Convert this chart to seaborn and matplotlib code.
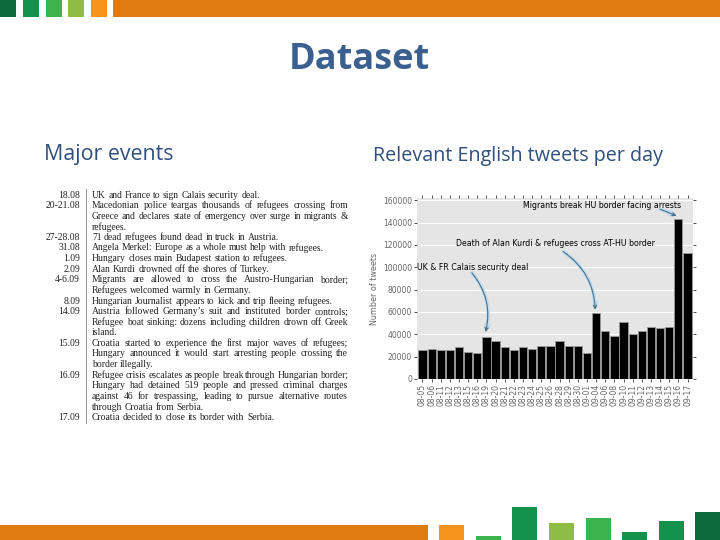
import matplotlib
matplotlib.use("Agg")
import matplotlib.pyplot as plt
import matplotlib.patches as mpatches
import seaborn as sns
import pandas as pd

# --- DATEN ---
dates = ["08-05", "08-06", "08-11", "08-12", "08-13", "08-15", "08-16", "08-19",
         "08-20", "08-21", "08-22", "08-23", "08-24", "08-25", "08-26", "08-28",
         "08-29", "08-30", "09-01", "09-04", "09-06", "09-08", "09-10", "09-11",
         "09-12", "09-13", "09-14", "09-15", "09-16", "09-17"]
tweets = [26200, 26500, 25600, 25600, 28300, 24400, 22900, 37200,
          33600, 28800, 25600, 28300, 26500, 29100, 29100, 33600,
          29100, 29100, 22900, 59500, 42800, 38100, 51200, 39900,
          43400, 46100, 45200, 46100, 143600, 113000]
y_ticks = [0, 20000, 40000, 60000, 80000, 100000, 120000, 140000, 160000]

event_dates = ["18.08", "20-21.08", "27-28.08", "31.08", "1.09", "2.09", "4-6.09",
               "8.09", "14.09", "15.09", "16.09", "17.09"]
event_lines = [
    ["UK and France to sign Calais security deal."],
    ["Macedonian police teargas thousands of refugees crossing from",
     "Greece and declares state of emergency over surge in migrants &",
     "refugees."],
    ["71 dead refugees found dead in truck in Austria."],
    ["Angela Merkel: Europe as a whole must help with refugees."],
    ["Hungary closes main Budapest station to refugees."],
    ["Alan Kurdi drowned off the shores of Turkey."],
    ["Migrants are allowed to cross the Austro-Hungarian border;",
     "Refugees welcomed warmly in Germany."],
    ["Hungarian Journalist appears to kick and trip fleeing refugees."],
    ["Austria followed Germany\u2019s suit and instituted border controls;",
     "Refugee boat sinking: dozens including children drown off Greek",
     "island."],
    ["Croatia started to experience the first major waves of refugees;",
     "Hungary announced it would start arresting people crossing the",
     "border illegally."],
    ["Refugee crisis escalates as people break through Hungarian border;",
     "Hungary had detained 519 people and pressed criminal charges",
     "against 46 for trespassing, leading to pursue alternative routes",
     "through Croatia from Serbia."],
    ["Croatia decided to close its border with Serbia."],
]

# Annotationen: (Text, Textposition, Pfeil von, Pfeil nach, Kruemmung)
annotations = [
    ("UK & FR Calais security deal", (-0.6, 100000), (5.4, 95000), (6.9, 42000), -0.25),
    ("Death of Alan Kurdi & refugees cross AT-HU border", (3.7, 121000), (15.4, 114000), (18.9, 62000), -0.25),
    ("Migrants break HU border facing arrests", (11.0, 155500), (26.0, 152000), (27.8, 146000), 0.0),
]

# --- FARBEN ---
BLUE_TITLE = "#3b6090"
BLUE_HEAD = "#2f4f7d"
ORANGE = "#e07b10"
ORANGE_LIGHT = "#f7941d"
GREEN_DARK = "#0b6b3a"
GREEN = "#12924a"
GREEN_MID = "#3cb44b"
GREEN_LIGHT = "#8fbc45"

W, H = 720, 540
fig = plt.figure(figsize=(7.2, 5.4), dpi=100)
fig.patch.set_facecolor("white")


def fx(px):
    return px / W


def fy(py):
    return 1 - py / H


def rect(x0, y0, x1, y1, color):
    fig.patches.append(mpatches.Rectangle((fx(x0), fy(y1)), fx(x1 - x0), (y1 - y0) / H,
                                          transform=fig.transFigure, color=color, lw=0))


# --- Kopfzeile ---
for x0, c in zip([0, 23, 46, 68, 91], [GREEN_DARK, GREEN, GREEN_MID, GREEN_LIGHT, ORANGE_LIGHT]):
    rect(x0, 0, x0 + 16, 17, c)
rect(113, 0, 720, 17, ORANGE)

# --- Fusszeile ---
rect(0, 525, 428, 540, ORANGE)
footer = [(439, 525, ORANGE_LIGHT), (476, 536, GREEN_MID), (512, 507, GREEN),
          (549, 523, GREEN_LIGHT), (586, 518, GREEN_MID), (622, 532, GREEN),
          (659, 521, GREEN), (695, 512, GREEN_DARK)]
for x0, top, c in footer:
    rect(x0, top, x0 + 25, 540, c)

# --- Titel ---
fig.text(fx(359), fy(60), "Dataset", ha="center", va="center", fontsize=26,
         fontweight="bold", color=BLUE_TITLE, family="Open Sans")
fig.text(fx(44), fy(155), "Major events", ha="left", va="center", fontsize=15.4,
         color=BLUE_HEAD, family="Open Sans")
fig.text(fx(373), fy(156), "Relevant English tweets per day", ha="left", va="center",
         fontsize=14.2, color=BLUE_HEAD, family="Open Sans")

# --- Ereignistabelle (Blocksatz) ---
renderer = fig.canvas.get_renderer()
TXT_X0, TXT_X1 = 92, 348
LINE_H = 10.6
tfont = dict(family="Liberation Serif", fontsize=6.9, color="#222222", va="center")
row = 0
for d, lines in zip(event_dates, event_lines):
    fig.text(fx(80), fy(195 + row * LINE_H), d, ha="right", **tfont)
    for j, line in enumerate(lines):
        y = fy(195 + row * LINE_H)
        words = line.split(" ")
        objs = [fig.text(0, y, w, ha="left", **tfont) for w in words]
        widths = [o.get_window_extent(renderer).width for o in objs]
        last = j == len(lines) - 1
        if last or len(words) < 2:
            gap = 2.4
        else:
            gap = (TXT_X1 - TXT_X0 - sum(widths)) / (len(words) - 1)
        x = TXT_X0
        for o, wd in zip(objs, widths):
            o.set_x(fx(x))
            x += wd + gap
        row += 1
fig.add_artist(plt.Line2D([fx(86), fx(86)], [fy(189), fy(423)], color="#999999", lw=0.8))

# --- Balkendiagramm ---
df = pd.DataFrame({"Date": dates, "Tweets": tweets})
ax = fig.add_axes([fx(417), fy(379), fx(693 - 417), (379 - 198) / H])
ax.set_facecolor("#e5e5e5")
ax.set_axisbelow(True)
ax.grid(True, color="white", lw=0.8)
sns.barplot(data=df, x="Date", y="Tweets", color="black", edgecolor="#9a9a9a",
            linewidth=0.6, width=0.9, saturation=1, ax=ax)
ax.set_xlim(-0.6, len(dates) - 0.4)
ax.set_ylim(0, 162000)
ax.set_yticks(y_ticks)
ax.set_yticklabels([str(v) for v in y_ticks])
for s in ax.spines.values():
    s.set_visible(False)
ax.tick_params(axis="both", labelsize=5.5, labelcolor="#666666", color="#333333",
               length=2, width=0.6, pad=1.5)
ax.tick_params(axis="x", rotation=90, top=True)
ax.tick_params(axis="y", right=True)
ax.set_xlabel("")
ax.set_ylabel("Number of tweets", fontsize=5.8, color="#666666", labelpad=3)

for label, tpos, start, end, rad in annotations:
    ax.text(tpos[0], tpos[1], label, ha="left", va="center", fontsize=5.7, color="black")
    for lw, col in [(2.6, "#c4dcec"), (0.8, "#3f6f92")]:
        ax.annotate("", xy=end, xytext=start,
                    arrowprops=dict(arrowstyle="->", color=col, lw=lw, mutation_scale=6,
                                    shrinkA=0, shrinkB=0,
                                    connectionstyle=f"arc3,rad={rad}"))

fig.savefig("out.png", dpi=100)
